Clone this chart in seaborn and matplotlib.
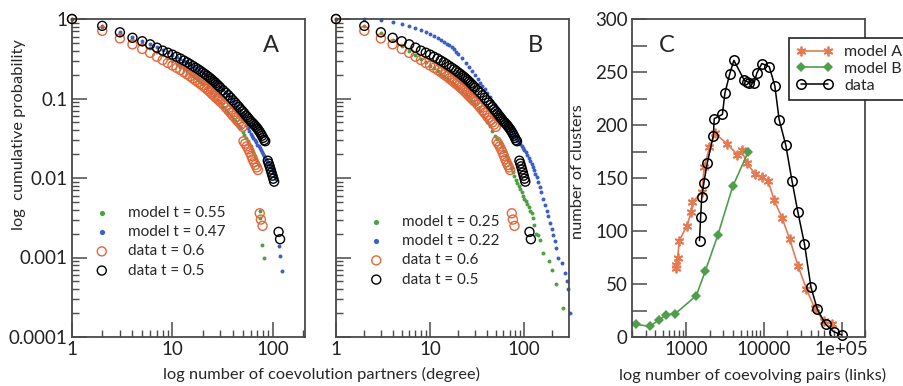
import numpy as np
import pandas as pd
import matplotlib
matplotlib.use("Agg")
import matplotlib.pyplot as plt
import seaborn as sns
from matplotlib.ticker import NullFormatter

# ------------------------------------------------------------
# data
# ------------------------------------------------------------
# empirical degree distributions (same in panels A and B)
data05_k = list(range(1, 31)) + list(range(32, 85, 2)) + [89, 91, 93, 95, 97, 99, 101, 103, 114, 118]
data05_p = [1.0, .82, .68, .58, .525, .48, .436, .40, .377, .356,
            .335, .318, .30, .285, .27, .256, .244, .233, .222, .212,
            .203, .194, .186, .178, .170, .163, .156, .149, .143, .137,
            .127, .118, .110, .102, .095, .089, .083, .078, .073, .069,
            .065, .061, .058, .055, .052, .050, .048, .046, .044, .042,
            .040, .038, .036, .034, .032, .030, .029,
            .0165, .0152, .014, .0128, .0117, .0107, .0098, .009, .0021, .0017]

data06_k = list(range(1, 31)) + list(range(32, 51, 2)) + list(range(51, 72, 2)) + [74, 76, 79]
data06_p = [1.0, .71, .57, .48, .42, .375, .335, .305, .28, .26,
            .243, .228, .214, .201, .19, .179, .169, .16, .152, .145,
            .138, .131, .125, .119, .113, .108, .103, .099, .095, .091,
            .084, .077, .071, .066, .061, .057, .053, .05, .047, .044,
            .029, .027, .025, .023, .021, .019, .0172, .0158, .0146, .0136, .0126,
            .0036, .003, .0025]

# panel A models
mA055_k = list(range(1, 21)) + list(range(22, 73, 2)) + [74, 75, 78, 82]
mA055_p = [1.0, .80, .655, .555, .485, .43, .385, .35, .32, .295,
           .272, .252, .235, .22, .206, .193, .181, .17, .16, .151,
           .136, .122, .109, .097, .087, .079, .072, .066, .061, .056,
           .052, .048, .045, .042, .038, .035, .032, .029, .027, .025,
           .023, .021, .019, .0175, .016, .0145,
           .0039, .0031, .00145, .00099]

mA047_k = list(range(1, 21)) + list(range(22, 109, 2)) + [115, 117, 123]
mA047_p = [1.0, .82, .685, .59, .53, .485, .445, .41, .38, .355,
           .335, .316, .30, .285, .27, .257, .245, .234, .223, .213,
           .195, .179, .165, .152, .141, .131, .121, .112, .104, .096,
           .089, .081, .073, .065, .058, .052, .046, .042, .039, .036,
           .034, .032, .030, .028, .026, .025, .024, .0225, .021, .020,
           .019, .018, .0172, .0165, .0158, .015, .0143, .0136, .0129, .0122,
           .0115, .0108, .0102, .0096,
           .0014, .00103, .00068]

# panel B models
mB025_k = list(range(1, 21)) + list(range(22, 41, 2)) + list(range(43, 101, 3)) + \
    [104, 108, 112, 116, 120, 124, 128, 133, 140, 147, 158, 185, 196, 218, 262]
mB025_p = [1.0, .82, .665, .545, .455, .395, .35, .315, .285, .26,
           .24, .222, .206, .193, .181, .17, .16, .151, .143, .136,
           .124, .113, .103, .094, .085, .077, .069, .062, .056, .051,
           .045, .039, .034, .031, .028, .025, .022, .019, .017, .015,
           .0133, .0118, .0105, .0095, .0086, .0079, .0072, .0066, .006, .0055,
           .0051, .0047, .0043, .0039, .0036, .0031, .0026, .002, .0019, .00165,
           .00115, .0009, .0007, .00046, .00023]

mB022_k = list(range(1, 21)) + list(range(22, 41, 2)) + list(range(43, 101, 3)) + \
    [104, 108, 112, 116, 120, 124, 128, 132, 136, 141, 146, 152, 160, 167, 174, 181,
     190, 197, 205, 212, 218, 232, 250, 270, 283, 295, 305]
mB022_p = [1.0, .99, .96, .92, .87, .82, .775, .73, .685, .645,
           .61, .575, .545, .515, .49, .465, .44, .415, .39, .365,
           .32, .28, .248, .22, .195, .175, .158, .143, .13, .118,
           .104, .092, .082, .074, .066, .06, .055, .05, .046, .042,
           .039, .036, .034, .032, .030, .028, .0265, .025, .0237, .0225,
           .021, .0195, .018, .0166, .0152, .0138, .0125, .0113, .0102, .009,
           .0078, .0066, .0055, .0046, .0038, .0033, .0027, .0023, .0019, .0016,
           .0013, .001, .00085, .00064, .0005, .0004, .0002]

# panel C: cluster size distributions
linksA = [735, 745, 775, 815, 1020, 1160, 1200, 1590, 1700, 1990, 2350, 3380, 4550,
          5180, 6000, 7670, 9330, 11350, 13550, 17200, 21500, 27500, 35300, 45100,
          58800, 75900]
clustA = [65, 68, 75, 91, 105, 118, 127, 137, 160, 179, 192, 182, 172,
          176, 164, 154, 151, 147, 129, 112, 92, 67, 45, 27, 15, 12]
linksB = [222, 339, 442, 554, 723, 1343, 1753, 2545, 3960, 6300]
clustB = [12, 10, 16, 21, 22, 39, 62, 96, 142, 175]
linksD = [1480, 1530, 1580, 1680, 1860, 2230, 2290, 2920, 3140, 3620, 4100, 5600,
          6050, 6450, 7500, 8100, 9400, 11700, 13800, 15700, 19100, 23000, 27300,
          33200, 40300, 48700, 62300, 79000, 100000]
clustD = [91, 113, 132, 145, 164, 190, 206, 210, 230, 248, 261, 242,
          241, 240, 240, 249, 258, 255, 237, 205, 181, 147, 118, 88, 47, 26, 12, 5, 2]

GREEN = "#4f9f45"
BLUE = "#3b5fc4"
ORANGE = "#e2673c"
ORANGE_C = "#e57a52"
GREEN_C = "#4e9e4a"
SPINE = "#4a4a4a"

sns.set_theme(style="ticks")
plt.rcParams['font.family'] = ['Lato', 'DejaVu Sans']
plt.rcParams.update({
    "xtick.direction": "in", "ytick.direction": "in",
    "xtick.major.size": 11, "ytick.major.size": 11,
    "xtick.minor.size": 5, "ytick.minor.size": 5,
    "xtick.major.width": 1.1, "ytick.major.width": 1.1,
    "xtick.minor.width": 1.0, "ytick.minor.width": 1.0,
    "xtick.color": SPINE, "ytick.color": SPINE,
    "xtick.labelcolor": "#222222", "ytick.labelcolor": "#222222",
    "xtick.bottom": True, "ytick.left": True,
    "xtick.top": False, "ytick.right": False,
})

fig = plt.figure(figsize=(9.04, 3.86), dpi=100)
W, H = 904, 386


def px_axes(x0, x1, y0, y1):
    return fig.add_axes([x0 / W, 1 - y1 / H, (x1 - x0) / W, (y1 - y0) / H])


axA = px_axes(72, 305, 19, 337)
axB = px_axes(336, 569, 19, 337)
axC = px_axes(632, 865, 19, 337)


def dots(ax, k, p, color, label):
    df = pd.DataFrame({"k": k, "p": p})
    sns.scatterplot(data=df, x="k", y="p", ax=ax, color=color, s=8, linewidth=0,
                    label=label, clip_on=False, zorder=2)


def rings(ax, k, p, color, label):
    df = pd.DataFrame({"k": k, "p": p})
    sns.scatterplot(data=df, x="k", y="p", ax=ax, facecolors="none", edgecolor=color,
                    s=42, linewidth=1.0, label=label, clip_on=False, zorder=3)


def log_style(ax, xmax, ylabels):
    ax.set_xscale("log")
    ax.set_yscale("log")
    ax.set_xlim(1, xmax)
    ax.set_ylim(1e-4, 1)
    ax.set_xticks([1, 10, 100], labels=["1", "10", "100"])
    ax.set_xticks([m * d for d in (1, 10, 100) for m in range(2, 10) if m * d < xmax], minor=True)
    ax.set_yticks([1e-4, 1e-3, 1e-2, 1e-1, 1], labels=["0.0001", "0.001", "0.01", "0.1", "1"])
    ax.set_yticks([m * d for d in (1e-4, 1e-3, 1e-2, 1e-1) for m in range(2, 10)], minor=True)
    ax.xaxis.set_minor_formatter(NullFormatter())
    ax.yaxis.set_minor_formatter(NullFormatter())
    if not ylabels:
        ax.set_yticklabels([])
    ax.set_xlabel("")
    ax.set_ylabel("")


# ---------------- panel A ----------------
dots(axA, mA055_k, mA055_p, GREEN, "model t = 0.55")
dots(axA, mA047_k, mA047_p, BLUE, "model t = 0.47")
rings(axA, data06_k, data06_p, ORANGE, "data t = 0.6")
rings(axA, data05_k, data05_p, "black", "data t = 0.5")
log_style(axA, 209, True)

# ---------------- panel B ----------------
dots(axB, mB025_k, mB025_p, GREEN, "model t = 0.25")
dots(axB, mB022_k, mB022_p, BLUE, "model t = 0.22")
rings(axB, data06_k, data06_p, ORANGE, "data t = 0.6")
rings(axB, data05_k, data05_p, "black", "data t = 0.5")
log_style(axB, 300, False)

for ax, x0, ytop in ((axA, 0.095, (337 - 206) / 318), (axB, 0.14, (337 - 215) / 318)):
    leg = ax.legend(loc="upper left", bbox_to_anchor=(x0, ytop),
                    frameon=False, fontsize=11, handlelength=1.0, handletextpad=1.2,
                    labelspacing=0.34, borderpad=0, borderaxespad=0)
    for h in leg.legend_handles[:2]:
        h.set_sizes([14])

# ---------------- panel C ----------------
sns.lineplot(x=linksA, y=clustA, ax=axC, color=ORANGE_C, marker=(6, 2, 0), markersize=7,
             markeredgewidth=1.3, markeredgecolor=ORANGE_C, linewidth=1.2,
             estimator=None, sort=False, label="model A", clip_on=False)
sns.lineplot(x=linksB, y=clustB, ax=axC, color=GREEN_C, marker="D", markersize=5.5,
             markeredgewidth=0, linewidth=1.2, estimator=None, sort=False,
             label="model B", clip_on=False)
sns.lineplot(x=linksD, y=clustD, ax=axC, color="black", marker="o", markersize=6.8,
             markerfacecolor="none", markeredgecolor="black", markeredgewidth=1.1,
             linewidth=1.1, estimator=None, sort=False, label="data", clip_on=False)
axC.set_xscale("log")
axC.set_xlim(200, 2e5)
axC.set_ylim(0, 300)
axC.set_xticks([1000, 10000, 100000], labels=["1000", "10000", "1e+05"])
axC.set_xticks([m * d for d in (100, 1000, 10000, 100000) for m in range(2, 10)
                if 200 <= m * d <= 2e5], minor=True)
axC.xaxis.set_minor_formatter(NullFormatter())
axC.set_yticks(range(0, 301, 25),
               labels=[str(v) if v % 50 == 0 else "" for v in range(0, 301, 25)])
axC.set_xlabel("")
axC.set_ylabel("")
legC = axC.legend(loc="upper left", bbox_to_anchor=(789 / W, 1 - 38 / H),
                  bbox_transform=fig.transFigure, fontsize=11.5, numpoints=2,
                  handlelength=2.3, handletextpad=0.7, labelspacing=0.15,
                  borderpad=0.45, borderaxespad=0, fancybox=False, framealpha=1,
                  edgecolor="#222222")
legC.get_frame().set_linewidth(1.2)
legC.set_zorder(10)

for ax in (axA, axB, axC):
    ax.tick_params(which="major", direction="in", length=11, width=1.1, color=SPINE,
                   labelsize=13.5, pad=3, bottom=True, left=True, top=False, right=False)
    ax.tick_params(which="minor", direction="in", length=5, width=1.0, color=SPINE,
                   bottom=True, left=True, top=False, right=False)
    for s in ax.spines.values():
        s.set_visible(True)
        s.set_color(SPINE)
        s.set_linewidth(1.3)

for letter, x in (("A", 271), ("B", 535), ("C", 667)):
    fig.text(x / W, 1 - 45 / H, letter, fontsize=17, ha="center", va="center")

fig.text(19 / W, 1 - 135 / H, "log  cumulative probability", rotation=90,
         ha="center", va="center", fontsize=11.8)
fig.text(322 / W, 1 - 374 / H, "log number of coevolution partners (degree)",
         ha="center", va="center", fontsize=11.8)
fig.text(578 / W, 1 - 172 / H, "number of clusters", rotation=90,
         ha="center", va="center", fontsize=11.8)
fig.text(753 / W, 1 - 375 / H, "log number of coevolving pairs (links)",
         ha="center", va="center", fontsize=11.8)

fig.savefig("out.png", dpi=100)
